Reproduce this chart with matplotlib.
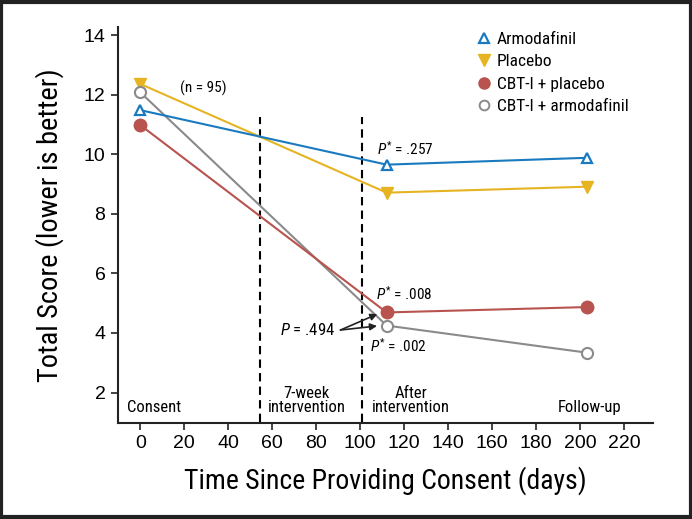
import matplotlib
matplotlib.use("Agg")
import matplotlib.pyplot as plt
from matplotlib import font_manager as fm
from matplotlib.lines import Line2D
from matplotlib.patches import Rectangle

# pick a condensed face close to the journal's Univers Condensed
have = {f.name for f in fm.fontManager.ttflist}
cond = next((n for n in ['Liberation Sans Narrow', 'Roboto Condensed', 'Archivo Narrow',
                         'Asap Condensed', 'Barlow Semi Condensed'] if n in have), 'DejaVu Sans')
narrow = [cond, 'DejaVu Sans']
plt.rcParams['font.family'] = narrow
plt.rcParams['mathtext.fontset'] = 'custom'
plt.rcParams['mathtext.it'] = cond + ':italic'
plt.rcParams['mathtext.rm'] = cond

# data
days = [0, 112, 203]
armodafinil = [11.48, 9.65, 9.88]
placebo = [12.36, 8.71, 8.91]
cbt_placebo = [10.98, 4.69, 4.87]
cbt_armodafinil = [12.08, 4.25, 3.34]
labels = ['Armodafinil', 'Placebo', 'CBT-I + placebo', 'CBT-I + armodafinil']
phase_bounds = [54.5, 101]
xticks = list(range(0, 221, 20))
yticks = [2, 4, 6, 8, 10, 12, 14]

c_blue = '#1a7abf'
c_gold = '#e6b422'
c_red = '#b8534f'
c_gray = '#8a8a8a'

fig = plt.figure(figsize=(6.92, 5.19), dpi=100)
fig.patches.append(Rectangle((0.002, 0.003), 0.996, 0.994, transform=fig.transFigure,
                             fill=False, edgecolor='#222222', linewidth=3))
ax = fig.add_axes([0.1705, 0.185, 0.773, 0.763])

lw = 1.5
ax.plot(days, placebo, color=c_gold, lw=lw, marker='v', ms=8, mfc=c_gold, mec=c_gold, zorder=3)
ax.plot(days, armodafinil, color=c_blue, lw=lw, marker='^', ms=7, mfc='white', mec=c_blue, mew=1.6, zorder=4)
ax.plot(days, cbt_armodafinil, color=c_gray, lw=lw, marker='o', ms=8, mfc='white', mec=c_gray, mew=1.5, zorder=3)
ax.plot(days, cbt_placebo, color=c_red, lw=lw, marker='o', ms=9, mfc=c_red, mec=c_red, zorder=4)

for xb in phase_bounds:
    ax.vlines(xb, 1.0, 11.25, colors='black', linestyles=(0, (4, 2.5)), lw=1.5, zorder=2)

ax.set_xlim(-10.1, 233)
ax.set_ylim(0.98, 14.27)
ax.set_xticks(xticks)
ax.set_yticks(yticks)
for s in ['top', 'right']:
    ax.spines[s].set_visible(False)
for s in ['left', 'bottom']:
    ax.spines[s].set_linewidth(1.5)
    ax.spines[s].set_color('#222222')
ax.tick_params(axis='both', length=5, width=1.2, color='#222222', labelsize=14, pad=4)
for lab in ax.get_xticklabels() + ax.get_yticklabels():
    lab.set_family(['Liberation Sans', 'DejaVu Sans'])

ax.set_xlabel('Time Since Providing Consent (days)', fontsize=20, labelpad=10)
ax.set_ylabel('Total Score (lower is better)', fontsize=20.5, labelpad=14)

# phase labels
ax.text(-6, 1.25, 'Consent', fontsize=12, ha='left', va='bottom')
ax.text(75.6, 1.25, '7-week\nintervention', fontsize=12, ha='center', va='bottom', linespacing=0.95)
ax.text(123, 1.25, 'After\nintervention', fontsize=12, ha='center', va='bottom', linespacing=0.95)
ax.text(204, 1.25, 'Follow-up', fontsize=12, ha='center', va='bottom')

# annotations
ax.text(28.6, 12.2, '(n = 95)', fontsize=11, ha='center', va='center')
ax.text(107.5, 10.2, r'$P^{*}$ = .257', fontsize=11, ha='left', va='center')
ax.text(107, 5.33, r'$P^{*}$ = .008', fontsize=11, ha='left', va='center')
ax.text(104.5, 3.56, r'$P^{*}$ = .002', fontsize=11, ha='left', va='center')
ax.text(88.5, 4.1, r'$P$ = .494', fontsize=12, ha='right', va='center')
for yt in [cbt_placebo[1], cbt_armodafinil[1]]:
    ax.annotate('', xy=(109.5, yt), xytext=(91, 4.1),
                arrowprops=dict(arrowstyle='-|>', color='#222222', lw=1.2,
                                mutation_scale=10, shrinkA=0, shrinkB=3))

handles = [
    Line2D([], [], ls='none', marker='^', ms=7, mfc='white', mec=c_blue, mew=1.6),
    Line2D([], [], ls='none', marker='v', ms=8, mfc=c_gold, mec=c_gold),
    Line2D([], [], ls='none', marker='o', ms=8, mfc=c_red, mec=c_red),
    Line2D([], [], ls='none', marker='o', ms=7, mfc='white', mec=c_gray, mew=1.4),
]
ax.legend(handles, labels, loc='upper left', bbox_to_anchor=(0.655, 1.01), frameon=False,
          fontsize=12.5, handlelength=0.8, handletextpad=0.35, labelspacing=0.42, borderpad=0)

fig.savefig('out.png', dpi=100)
